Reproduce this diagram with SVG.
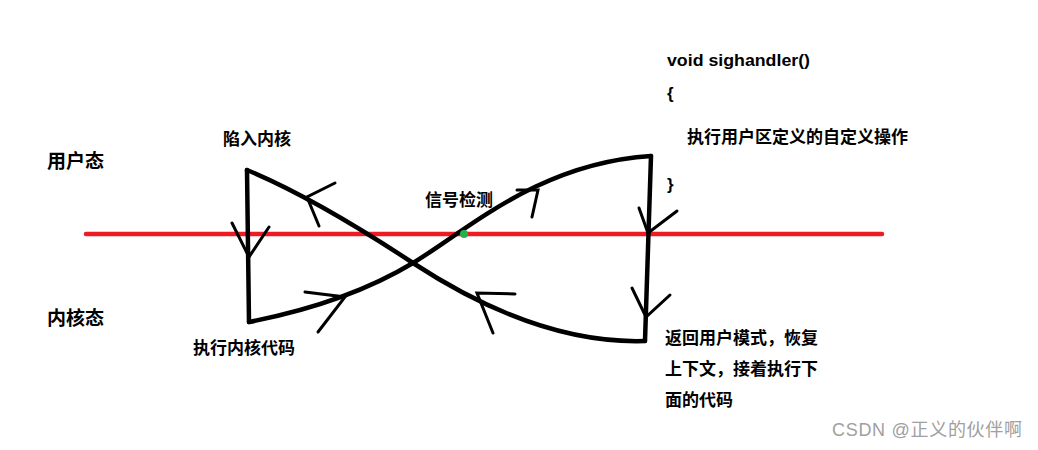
<svg xmlns="http://www.w3.org/2000/svg" width="1038" height="450" viewBox="0 0 1038 450">
<style>
.t{font-family:"Noto Sans CJK SC","Liberation Sans",sans-serif;font-weight:bold;fill:#000}
.c{font-family:"Liberation Sans","Noto Sans CJK SC",sans-serif;font-weight:bold;fill:#000;font-size:17px}
.ln{fill:none;stroke:#000;stroke-width:4.5;stroke-linecap:round;stroke-linejoin:round}
.ar{fill:none;stroke:#000;stroke-width:3;stroke-linecap:round;stroke-linejoin:miter}
</style>
<rect width="1038" height="450" fill="#fff"/>
<g id="divider">
<line x1="86" y1="234" x2="882" y2="234" stroke="#ed1c24" stroke-width="4.5" stroke-linecap="round"/>
</g>
<g id="connectors">
<path class="ln" d="M247,170 L249,322"/>
<path class="ln" d="M651,156 L645,341"/>
<path class="ln" d="M247,170 C300,192 360,228 413,263 C465,297 550,344 645,341"/>
<path class="ln" d="M249,322 C300,312 360,295 413,263 C470,228 540,163 651,156"/>
<path class="ar" d="M232,223 L249,257 L269,227"/>
<path class="ar" d="M335,183 L307,197 L319,226"/>
<path class="ar" d="M305,292 L345,297 L318,332"/>
<path class="ar" d="M517,190 L538,190 L532,217"/>
<path class="ar" d="M515,294 L477,293 L493,333"/>
<path class="ar" d="M639,208 L648,233 L677,211"/>
<path class="ar" d="M632,288 L646,317 L670,295"/>
</g>
<g id="signal-point">
<circle cx="464" cy="234" r="4" fill="#22b14c"/>
</g>
<g id="user-mode"><text class="t" x="47" y="168" font-size="19">用户态</text></g>
<g id="kernel-mode"><text class="t" x="47" y="325" font-size="19">内核态</text></g>
<g id="trap"><text class="t" x="223" y="145" font-size="17">陷入内核</text></g>
<g id="kernel-code"><text class="t" x="193" y="354" font-size="17">执行内核代码</text></g>
<g id="signal-check"><text class="t" x="425" y="206" font-size="17">信号检测</text></g>
<g id="handler">
<text class="c" x="667" y="66" textLength="143" lengthAdjust="spacingAndGlyphs">void sighandler()</text>
<text class="c" x="667" y="99">{</text>
<text class="t" x="687" y="143" font-size="17">执行用户区定义的自定义操作</text>
<text class="c" x="667" y="190">}</text>
</g>
<g id="return">
<text class="t" x="665" y="344" font-size="17">返回用户模式，恢复</text>
<text class="t" x="665" y="375" font-size="17">上下文，接着执行下</text>
<text class="t" x="665" y="406" font-size="17">面的代码</text>
</g>
<g id="watermark">
<text x="832" y="436" font-family="'Liberation Sans','Noto Sans CJK SC',sans-serif" font-size="18" fill="#a0a0a0" textLength="190" lengthAdjust="spacing">CSDN @正义的伙伴啊</text>
</g>
</svg>
